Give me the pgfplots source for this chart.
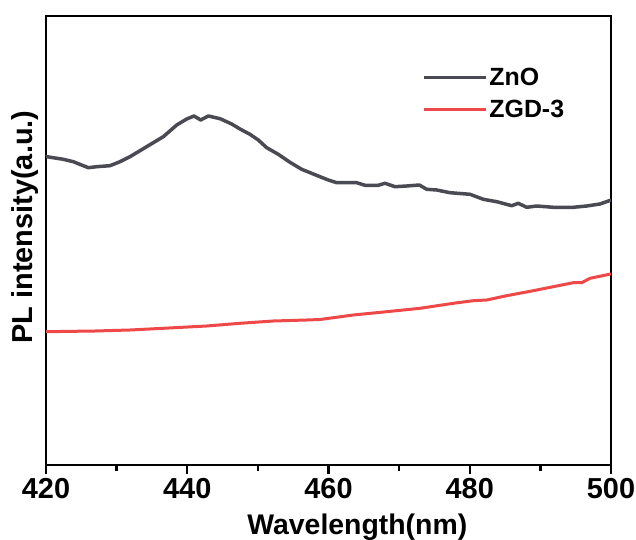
\documentclass[border=0pt]{standalone}
\usepackage{pgfplots}
\pgfplotsset{compat=1.18}
\usepackage{fontspec}
\setmainfont{Liberation Sans}
\definecolor{zno}{RGB}{74,74,82}
\definecolor{zgd}{RGB}{238,72,72}
\begin{document}
\begin{tikzpicture}
\begin{axis}[
  at={(0,0)}, anchor=south west,
  scale only axis, width=565bp, height=449bp,
  xmin=420, xmax=500, ymin=75, ymax=524,
  xtick={420,440,...,500}, minor xtick={430,450,470,490},
  ytick=\empty, xtick pos=bottom, tick align=outside,
  major tick length=9bp, minor tick length=6bp,
  every tick/.style={line width=2.5bp, black},
  axis line style={line width=2.5bp},
  /pgf/number format/assume math mode=true,
  /pgf/number format/set thousands separator={},
  ticklabel style={font=\bfseries\fontsize{29}{32}\selectfont},
  xticklabel style={yshift=-1bp},
  xlabel={Wavelength(nm)},
  ylabel={PL intensity(a.u.)},
  label style={font=\bfseries\fontsize{29}{32}\selectfont},
  xlabel style={font=\bfseries\fontsize{28.5}{32}\selectfont, at={(axis description cs:0.551,0)}, anchor=center, yshift=-62bp},
  ylabel style={at={(axis description cs:-0.037,0.53)}, anchor=center, rotate=0},
  legend style={draw=none, fill=none, at={(axis description cs:0.665,0.889)}, anchor=north west,
    font=\bfseries\fontsize{25}{28}\selectfont, row sep=9.5bp, inner sep=0pt},
  legend cell align=left,
  legend image code/.code={\draw[#1] (0bp,0bp) -- (54bp,0bp); \path (54bp,0bp) -- (62bp,0bp);},
]
\addplot[zno, line width=3.5bp, line join=round] coordinates {
(420.00,383.3) (420.10,383.3) (422.45,380.7) (423.87,378.3) (425.99,372.3) (427.18,373.3)
(429.06,374.3) (430.48,378.3) (431.89,383.3) (433.31,389.3) (435.19,397.3) (436.61,403.3)
(438.51,415.0) (439.92,421.0) (440.96,424.0) (441.90,420.0) (442.98,424.0) (444.64,421.3)
(446.29,416.0) (447.47,411.0) (448.88,405.7) (450.06,400.0) (451.25,392.3) (452.89,385.7)
(454.55,377.7) (456.20,370.7) (457.85,366.0) (458.80,363.3) (459.97,360.0) (461.16,357.3)
(463.99,357.3) (465.17,354.7) (467.05,354.7) (468.00,356.7) (469.42,353.3) (471.07,354.0)
(472.86,355.0) (473.90,350.7) (475.32,350.0) (477.20,347.3) (480.04,345.7) (481.92,340.7)
(483.82,338.3) (485.94,334.3) (486.87,336.7) (488.06,332.7) (489.48,334.0) (491.83,332.7)
(494.66,332.7) (496.56,334.0) (498.44,336.0) (499.76,339.3) (500.00,339.5)
};
\addlegendentry{ZnO}
\addplot[zgd, line width=3bp, line join=round] coordinates {
(420.00,208.3) (426.94,209.0) (431.89,210.0) (436.61,211.7) (442.75,214.0) (447.47,216.7)
(452.18,219.0) (456.91,220.0) (458.80,220.5) (463.51,225.0) (468.24,228.3) (472.96,231.7)
(477.67,236.7) (480.50,239.3) (482.40,240.0) (485.23,244.3) (489.01,249.3) (491.83,253.3)
(494.66,257.3) (495.85,257.3) (497.03,261.7) (499.76,265.7) (500.00,266.0)
};
\addlegendentry{ZGD-3}
\end{axis}
\pgfresetboundingbox
\useasboundingbox (-46bp,-75bp) rectangle (590bp,465bp);
\end{tikzpicture}
\end{document}
